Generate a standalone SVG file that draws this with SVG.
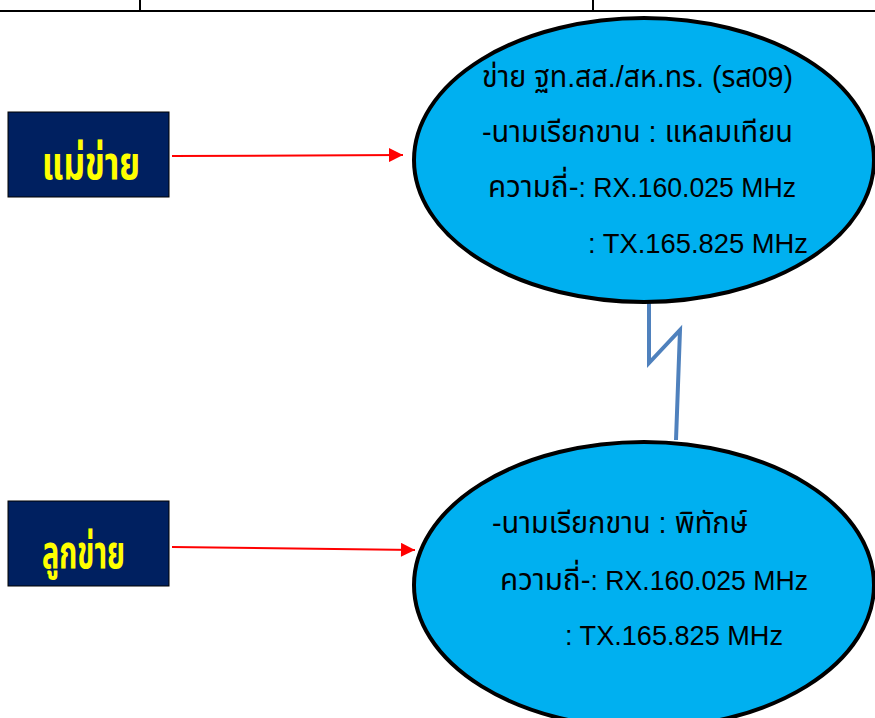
<svg xmlns="http://www.w3.org/2000/svg" width="875" height="718" viewBox="0 0 875 718">
<defs>
<marker id="ah" viewBox="0 0 10 10" refX="10" refY="5" markerWidth="15" markerHeight="14" markerUnits="userSpaceOnUse" orient="auto">
<path d="M0,0 L10,5 L0,10 z" fill="#FF0000"/>
</marker>
<style>
.box{fill:#002060;stroke:#000;stroke-width:1}
.lbl{fill:#FFFF00;font-family:"Noto Sans Thai","Noto Sans","DejaVu Sans",sans-serif;font-weight:bold;font-size:46px}
.ell{fill:#00B0F0;stroke:#000;stroke-width:4}
.t{fill:#000;font-family:"Liberation Sans","Noto Sans Thai","Noto Sans","DejaVu Sans",sans-serif;font-size:27px}
.th{font-size:30px}
.arr{stroke:#FF0000;stroke-width:2;fill:none;marker-end:url(#ah)}
.bolt{stroke:#4F81BD;stroke-width:4;fill:none;stroke-linejoin:miter}
.frame{stroke:#000;stroke-width:2;fill:none}
</style>
</defs>
<rect width="875" height="718" fill="#FFFFFF"/>
<g id="frame">
<line class="frame" x1="0" y1="11" x2="875" y2="11"/>
<line class="frame" x1="140" y1="0" x2="140" y2="11"/>
<line class="frame" x1="593" y1="0" x2="593" y2="11"/>
</g>
<g id="connectors">
<line class="arr" x1="172" y1="156" x2="403" y2="155"/>
<line class="arr" x1="172" y1="547" x2="415" y2="550"/>
<polyline class="bolt" points="649,298 649,363 680,330 676,440"/>
</g>
<g id="node-main">
<rect class="box" x="8" y="112" width="161" height="85"/>
<text class="lbl" x="42" y="179" textLength="98" lengthAdjust="spacingAndGlyphs">แม่ข่าย</text>
</g>
<g id="node-sub">
<rect class="box" x="8" y="501" width="161" height="85"/>
<text class="lbl" x="42" y="568" textLength="83" lengthAdjust="spacingAndGlyphs">ลูกข่าย</text>
</g>
<g id="ellipse-main">
<ellipse class="ell" cx="644" cy="160" rx="230" ry="142"/>
<text class="t th" x="482" y="87" textLength="311" lengthAdjust="spacingAndGlyphs">ข่าย ฐท.สส./สห.ทร. (รส09)</text>
<text class="t th" x="482" y="142" textLength="311" lengthAdjust="spacingAndGlyphs">-นามเรียกขาน : แหลมเทียน</text>
<text class="t" x="488" y="197" textLength="308" lengthAdjust="spacingAndGlyphs"><tspan class="th">ความถี่-</tspan>: RX.160.025 MHz</text>
<text class="t" x="588" y="253" textLength="220" lengthAdjust="spacingAndGlyphs">: TX.165.825 MHz</text>
</g>
<g id="ellipse-sub">
<ellipse class="ell" cx="644" cy="585" rx="230" ry="143"/>
<text class="t th" x="492" y="533" textLength="256" lengthAdjust="spacingAndGlyphs">-นามเรียกขาน : พิทักษ์</text>
<text class="t" x="500" y="590" textLength="308" lengthAdjust="spacingAndGlyphs"><tspan class="th">ความถี่-</tspan>: RX.160.025 MHz</text>
<text class="t" x="565" y="645" textLength="218" lengthAdjust="spacingAndGlyphs">: TX.165.825 MHz</text>
</g>
</svg>
